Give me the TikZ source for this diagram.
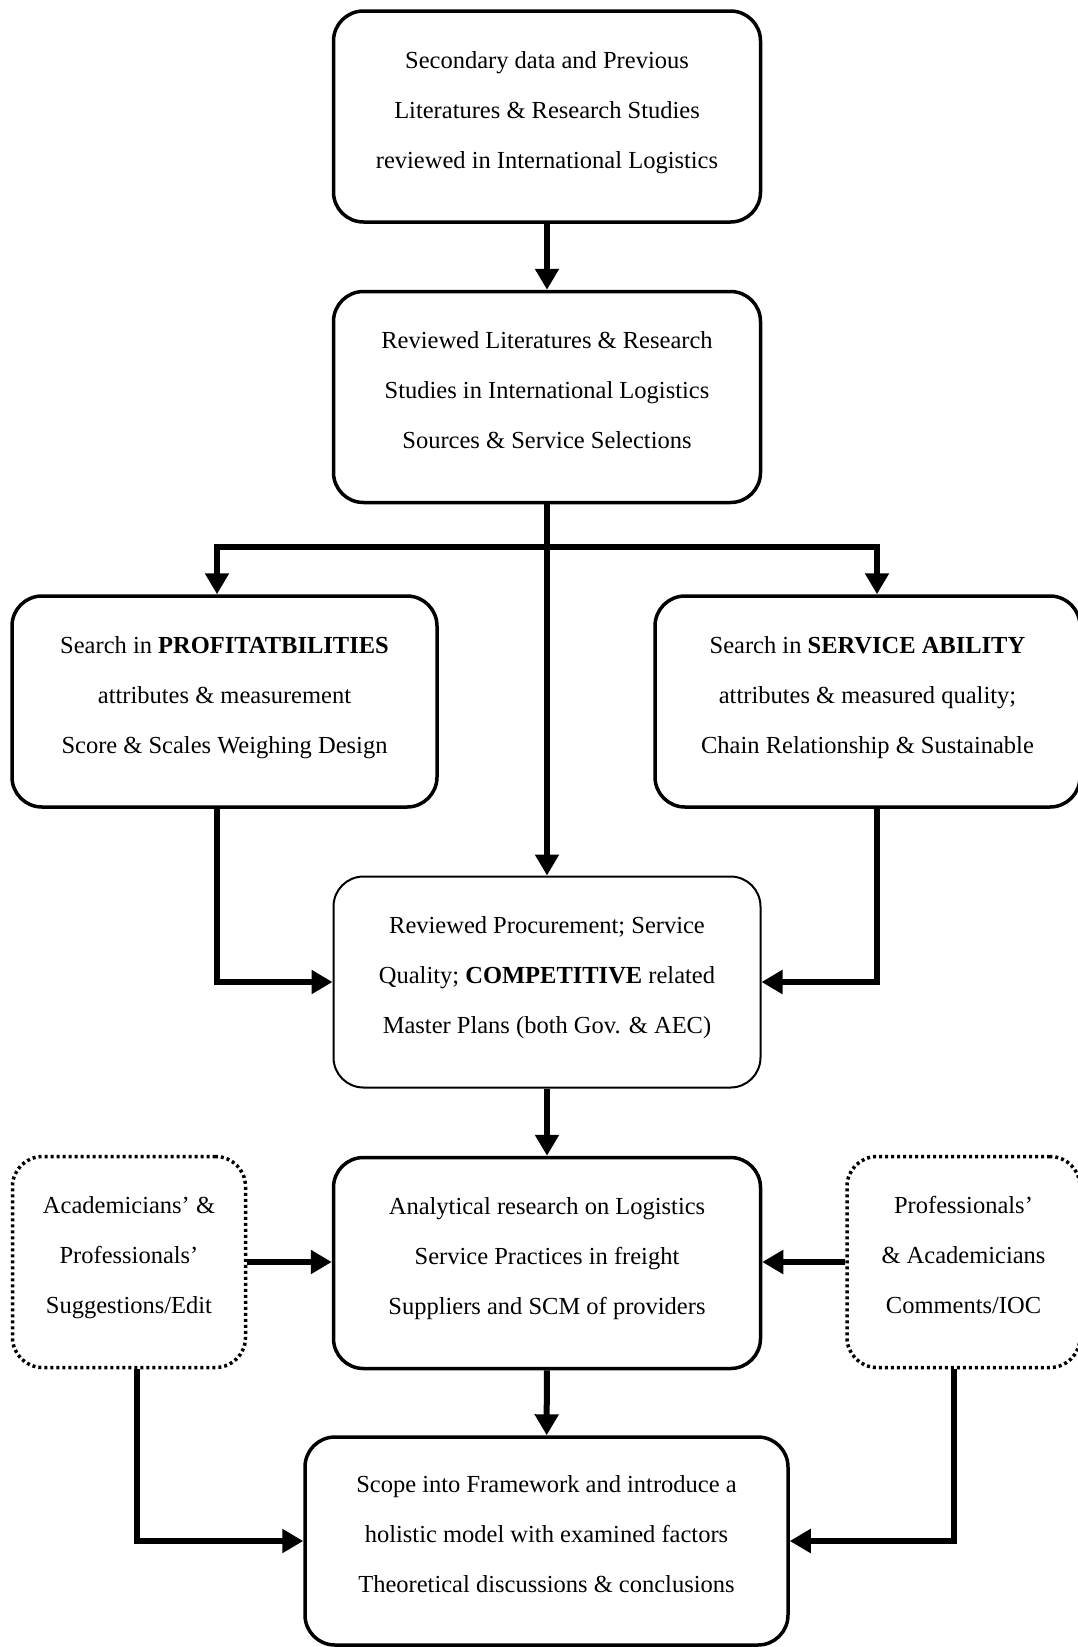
\documentclass[tikz,border=0pt]{standalone}
\usepackage{fontspec}
\setmainfont{Liberation Serif}
\usetikzlibrary{arrows.meta}
\newcommand{\bigtext}{\fontsize{24.5}{50}\selectfont}

\begin{document}
\begin{tikzpicture}[x=1pt,y=-1pt,
   stage/.style={draw,line width=3.5pt,rounded corners=30pt,minimum width=427pt,minimum height=211pt,align=center,text depth=14pt,font=\bigtext},
   plan/.style={stage,line width=2pt},
   note/.style={stage,line width=3.5pt,dash pattern=on 3pt off 3pt,minimum width=233pt},
   flow/.style={line width=6pt,-{Triangle[width=23pt,length=21pt]}}]
   \useasboundingbox (0,0) rectangle (1077,1647);
   \node[stage] (sec) at (547,116.5) {Secondary data and Previous\\Literatures \& Research Studies\\reviewed in International Logistics};
   \node[stage] (rev) at (547,397) {Reviewed Literatures \& Research\\Studies in International Logistics\\Sources \& Service Selections};
   \node[stage,minimum width=425pt] (prof) at (224.5,701.5) {Search in \textbf{PROFITATBILITIES}\\attributes \& measurement\\Score \& Scales Weighing Design};
   \node[stage,minimum width=425pt] (serv) at (867.5,701.5) {Search in \textbf{SERVICE ABILITY}\\attributes \& measured quality;\\Chain Relationship \& Sustainable};
   \node[plan] (proc) at (547,982) {Reviewed Procurement; Service\\Quality; \textbf{COMPETITIVE} related\\Master Plans (both Gov. \& AEC)};
   \node[stage] (anal) at (547,1263) {Analytical research on Logistics\\Service Practices in freight\\Suppliers and SCM of providers};
   \node[note] (acad) at (129,1262) {Academicians’ \&\\Professionals’\\Suggestions/Edit};
   \node[note] (pro) at (963.5,1262) {Professionals’\\\& Academicians\\Comments/IOC};
   \node[stage,minimum width=483pt,minimum height=208pt] (scope) at (546.5,1541) {Scope into Framework and introduce a\\holistic model with examined factors\\Theoretical discussions \& conclusions};
   \coordinate (fork) at (547,547);
   \draw[flow] (sec) -- (rev);
   \draw[flow] (rev) -- (proc);
   \draw[flow] (fork) -| ([xshift=-7.5pt]prof.north);
   \draw[flow] (fork) -| ([xshift=9.5pt]serv.north);
   \draw[flow] ([xshift=-7.5pt]prof.south) |- (proc.west);
   \draw[flow] ([xshift=9.5pt]serv.south) |- (proc.east);
   \draw[flow] (proc) -- (anal);
   \draw[flow] (acad.east) -- (acad.east -| anal.west);
   \draw[flow] (pro.west) -- (pro.west -| anal.east);
   \draw[flow] (anal) -- (scope);
   \draw[flow] ([xshift=8pt]acad.south) |- (scope.west);
   \draw[flow] ([xshift=-10pt]pro.south) |- (scope.east);
\end{tikzpicture}
\end{document}
